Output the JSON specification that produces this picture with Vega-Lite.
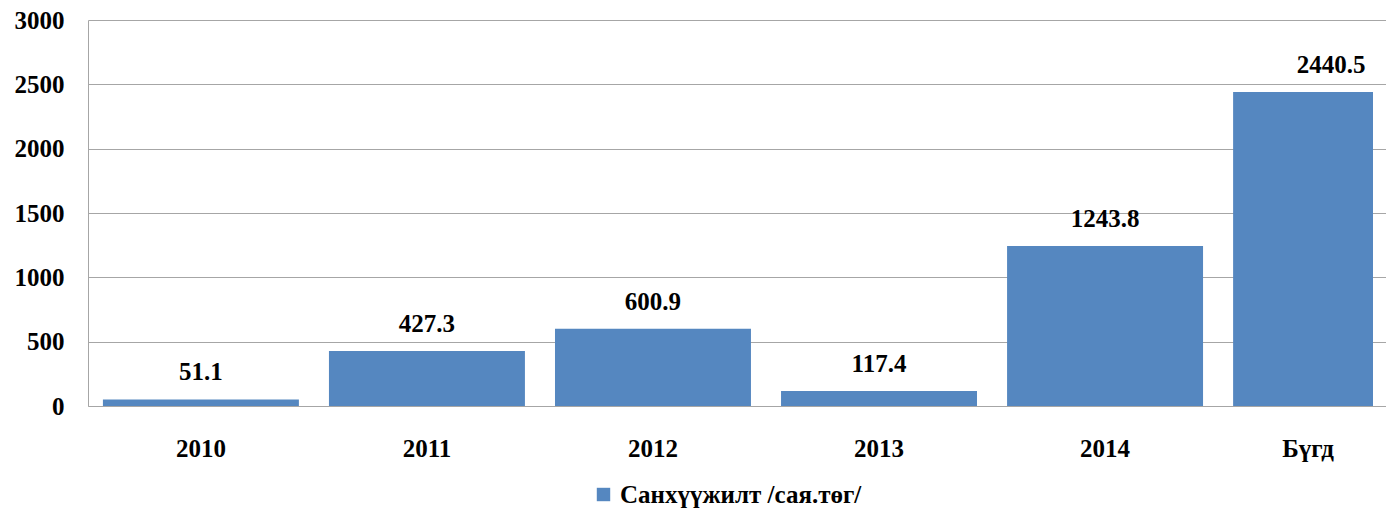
{
  "$schema": "https://vega.github.io/schema/vega-lite/v6.json",
  "autosize": "none",
  "width": 1285,
  "height": 386,
  "padding": {"left": 88, "top": 20, "right": 13, "bottom": 102},
  "background": "white",
  "data": {"values": [
    {"year": "2010", "value": 51.1},
    {"year": "2011", "value": 427.3},
    {"year": "2012", "value": 600.9},
    {"year": "2013", "value": 117.4},
    {"year": "2014", "value": 1243.8},
    {"year": "Бүгд", "value": 2440.5}
  ]},
  "config": {
    "view": {"stroke": null},
    "font": "Liberation Serif",
    "axis": {"labelFont": "Liberation Serif", "labelFontWeight": "bold", "labelColor": "#000", "labelFontSize": 25}
  },
  "layer": [
    {
      "mark": {"type": "bar", "clip": true},
      "encoding": {
        "x": {"field": "year", "type": "nominal", "sort": null,
          "scale": {"range": [0, 1356], "paddingInner": 0.133, "paddingOuter": 0.066},
          "axis": {"title": null, "ticks": false, "labelAngle": 0, "labelPadding": 30, "domainColor": "#a6a6a6", "grid": false,
            "labelOffset": {"condition": {"test": "datum.value === 'Бүгд'", "value": -23}, "value": 0}}},
        "y": {"field": "value", "type": "quantitative",
          "scale": {"domain": [0, 3000]},
          "axis": {"title": null, "ticks": false, "format": "d", "labelOverlap": false, "values": [0, 500, 1000, 1500, 2000, 2500, 3000], "labelPadding": 24, "domainColor": "#a6a6a6", "gridColor": "#a6a6a6", "gridWidth": 1}},
        "color": {"datum": "Санхүүжилт /сая.төг/", "type": "nominal",
          "scale": {"range": ["#5587C0"]},
          "legend": {"title": null, "orient": "none", "legendX": 503, "legendY": 462, "symbolType": "square", "symbolSize": 180, "symbolStrokeWidth": 0, "labelFont": "Liberation Serif", "labelFontSize": 25, "labelFontWeight": "bold", "labelColor": "#000", "labelLimit": 400}}
      }
    },
    {
      "mark": {"type": "text", "baseline": "bottom", "dy": -14, "font": "Liberation Serif", "fontWeight": "bold", "fontSize": 25, "color": "#000"},
      "encoding": {
        "x": {"field": "year", "type": "nominal", "sort": null},
        "y": {"field": "value", "type": "quantitative"},
        "text": {"field": "value", "type": "quantitative", "format": ".1f"}
      }
    }
  ]
}
